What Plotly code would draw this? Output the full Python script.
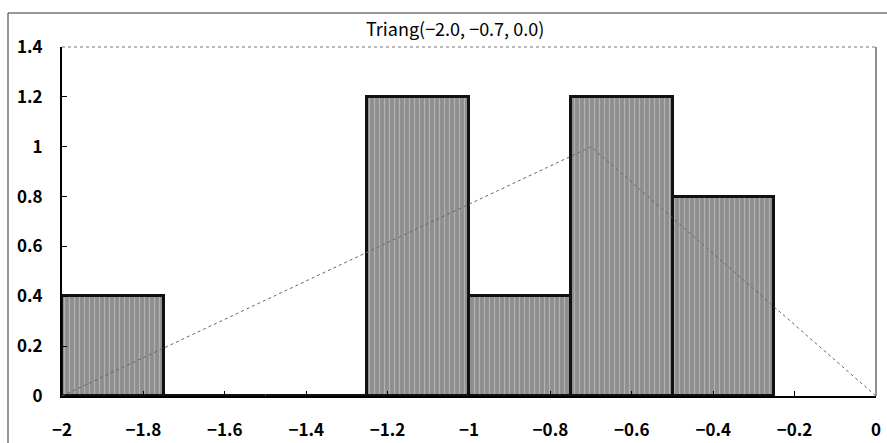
import plotly.graph_objects as go

bin_left = [-2.0, -1.75, -1.5, -1.25, -1.0, -0.75, -0.5]
bin_width = 0.25
density = [0.4, 0.0, 0.0, 1.2, 0.4, 1.2, 0.8]
pdf_x = [-2.0, -0.7, 0.0]
pdf_y = [0.0, 1.0, 0.0]
title_text = "Triang(−2.0, −0.7, 0.0)"
x_ticks = [-2, -1.8, -1.6, -1.4, -1.2, -1, -0.8, -0.6, -0.4, -0.2, 0]
y_ticks = [0, 0.2, 0.4, 0.6, 0.8, 1, 1.2, 1.4]

centers = [b + bin_width / 2 for b in bin_left]
font_family = "Noto Sans CJK JP, Liberation Sans, Arial"

fig = go.Figure()
fig.add_trace(go.Bar(
    x=centers, y=density, width=[bin_width] * len(centers),
    marker=dict(color="#a0a0a0", line=dict(color="#111111", width=3),
                pattern=dict(shape="|", fgcolor="#d4d4d4", bgcolor="#8e8e8e",
                             size=5, solidity=0.25)),
    showlegend=False, hoverinfo="skip",
))
fig.add_trace(go.Scatter(
    x=pdf_x, y=pdf_y, mode="lines",
    line=dict(color="#666666", width=1, dash="dot"),
    showlegend=False, hoverinfo="skip",
))

fig.update_layout(
    width=887, height=443,
    margin=dict(l=62, r=11, t=47, b=47, autoexpand=False),
    paper_bgcolor="white", plot_bgcolor="white",
    bargap=0,
    font=dict(family=font_family, color="black", size=17),
    xaxis=dict(range=[-2, 0], tickvals=x_ticks,
               ticktext=[("%g" % v).replace("-", "−") for v in x_ticks],
               showgrid=False, zeroline=False, automargin=False,
               showline=True, linecolor="black", linewidth=2,
               mirror=False, ticks="inside", ticklen=5, tickcolor="black",
               tickfont=dict(size=17, family=font_family, weight="bold"),
               ticklabelstandoff=18),
    yaxis=dict(range=[0, 1.4], tickvals=y_ticks,
               ticktext=["%g" % v for v in y_ticks],
               showgrid=False, zeroline=False, automargin=False,
               showline=True, linecolor="black", linewidth=2,
               ticks="inside", ticklen=5, tickcolor="black",
               tickfont=dict(size=17, family=font_family, weight="bold"),
               ticklabelstandoff=14),
    shapes=[
        dict(type="line", xref="paper", yref="paper", x0=1, x1=1, y0=0, y1=1,
             line=dict(color="#222222", width=1)),
        dict(type="line", xref="paper", yref="paper", x0=0, x1=1, y0=1, y1=1,
             line=dict(color="#777777", width=1, dash="dot")),
        dict(type="rect", xref="paper", yref="paper",
             x0=-54 / 814, x1=1.02, y0=-0.2, y1=1 + 34 / 349,
             line=dict(color="#333333", width=1)),
    ],
    annotations=[dict(text=title_text, xref="paper", yref="paper",
                      x=(455 - 62) / 814, y=1 + 19 / 349, showarrow=False,
                      xanchor="center", yanchor="middle",
                      font=dict(size=18, family=font_family))],
)

fig.write_html("out.html")
